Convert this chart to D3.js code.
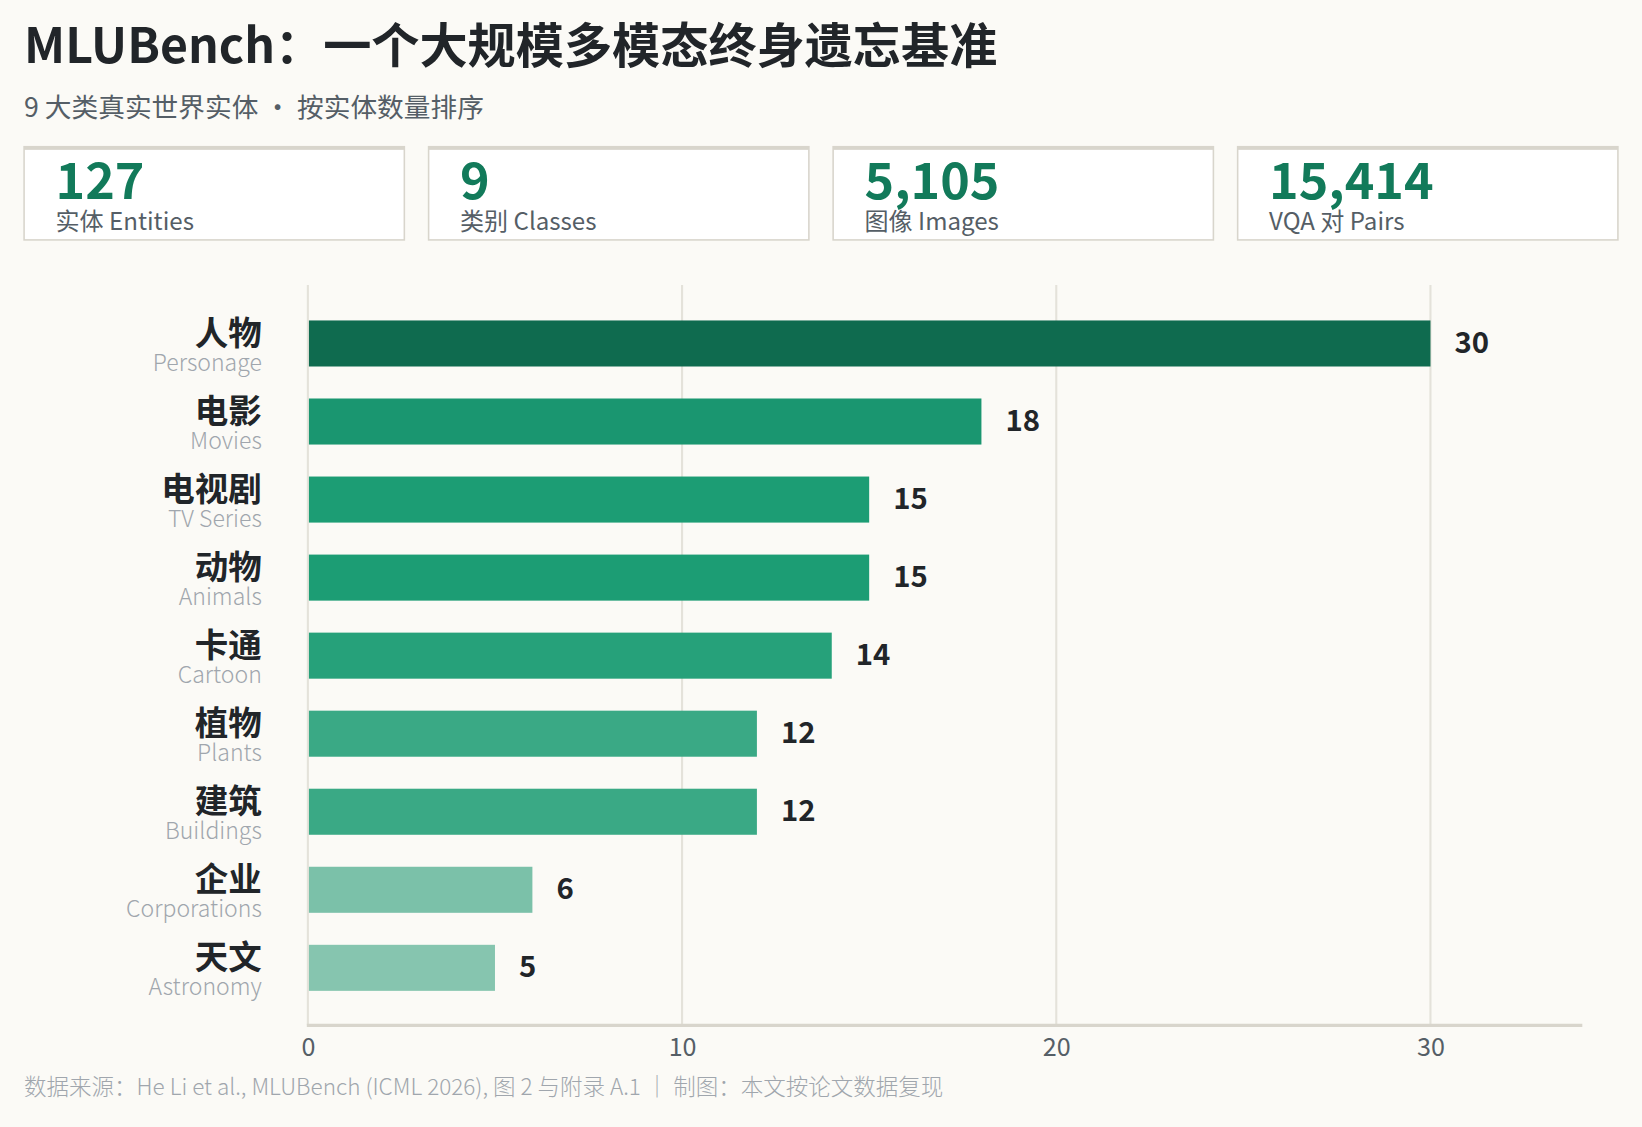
<!DOCTYPE html>
<html><head><meta charset="utf-8">
<script src="https://cdn.jsdelivr.net/npm/d3@7/dist/d3.min.js"></script>
<style>body{margin:0;background:#fbfaf6;}text{font-family:"Noto Sans CJK SC","Noto Sans",sans-serif;}</style>
</head><body><svg id="c"></svg>
<script>
const categoriesZh = ["人物","电影","电视剧","动物","卡通","植物","建筑","企业","天文"];
const categoriesEn = ["Personage","Movies","TV Series","Animals","Cartoon","Plants","Buildings","Corporations","Astronomy"];
const counts = [30,18,15,15,14,12,12,6,5];
const statValues = ["127","9","5,105","15,414"];
const statLabels = ["实体 Entities","类别 Classes","图像 Images","VQA 对 Pairs"];
const tickValues = [0,10,20,30];

const svg = d3.select("#c").attr("width",1642).attr("height",1127).attr("viewBox","0 0 1568 1076");
svg.append("rect").attr("width",1568).attr("height",1076).attr("fill","#fbfaf6");
svg.append("text").attr("x",23).attr("y",60).attr("font-size",46).attr("font-weight",700).attr("fill","#212529").text("MLUBench：一个大规模多模态终身遗忘基准");
svg.append("text").attr("x",23).attr("y",112).attr("font-size",25.5).attr("fill","#555e66").text("9 大类真实世界实体 · 按实体数量排序");

const cardX = d3.scaleBand().domain(d3.range(4)).range([23,1545]).paddingInner(0.06);
const cards = svg.selectAll("g.card").data(statValues).join("g").attr("transform",(d,i)=>`translate(${cardX(i)},140)`);
cards.append("rect").attr("width",cardX.bandwidth()).attr("height",89).attr("fill","#fff").attr("stroke","#d8d5cc").attr("stroke-width",1.5);
cards.append("rect").attr("width",cardX.bandwidth()).attr("height",3).attr("fill","#d8d5cc");
cards.append("text").attr("x",30).attr("y",50).attr("font-size",48).attr("font-weight",700).attr("fill","#127a5a").text(d=>d);
cards.append("text").attr("x",30).attr("y",80).attr("font-size",23).attr("fill","#555e66").text((d,i)=>statLabels[i]);

const x = d3.scaleLinear().domain([0,30]).range([294,1366]);
const y = d3.scaleBand().domain(d3.range(counts.length)).range([291,961]).paddingInner(0.41).paddingOuter(0.2);
const color = d3.scaleLinear().domain([5,12,15,18,30]).range(["#86c5af","#3aa985","#1c9d74","#1a9670","#0f6b4f"]);

svg.append("g").selectAll("line").data(tickValues).join("line")
  .attr("x1",d=>x(d)).attr("x2",d=>x(d)).attr("y1",272).attr("y2",979)
  .attr("stroke","#e4e2da").attr("stroke-width",2);
svg.append("line").attr("x1",293).attr("x2",1511).attr("y1",979).attr("y2",979).attr("stroke","#d8d5cc").attr("stroke-width",3);

const ax = svg.append("g").attr("transform","translate(0,979)").call(d3.axisBottom(x).tickValues(tickValues).tickSize(0).tickPadding(12));
ax.select(".domain").remove();
ax.selectAll("text").attr("font-size",24).attr("fill","#555e66").attr("font-family",'"Noto Sans CJK SC",sans-serif');

svg.append("g").selectAll("rect").data(counts).join("rect")
  .attr("x",x(0)+1).attr("y",(d,i)=>y(i)).attr("width",d=>x(d)-x(0)-1).attr("height",y.bandwidth()).attr("fill",d=>color(d));
svg.append("g").selectAll("text").data(counts).join("text")
  .attr("x",d=>x(d)+23).attr("y",(d,i)=>y(i)+y.bandwidth()/2+9).attr("font-size",28).attr("font-weight",700).attr("fill","#212529").text(d=>d);
svg.append("g").selectAll("text").data(categoriesZh).join("text")
  .attr("x",250).attr("y",(d,i)=>y(i)+y.bandwidth()/2+1).attr("text-anchor","end").attr("font-size",32).attr("font-weight",700).attr("fill","#212529").text(d=>d);
svg.append("g").selectAll("text").data(categoriesEn).join("text")
  .attr("x",250).attr("y",(d,i)=>y(i)+y.bandwidth()/2+26).attr("text-anchor","end").attr("font-size",22).attr("font-weight",300).attr("fill","#a0a6ad").text(d=>d);

svg.append("text").attr("x",23).attr("y",1046).attr("font-size",21.5).attr("font-weight",300).attr("fill","#a0a6ad")
  .text("数据来源：He Li et al., MLUBench (ICML 2026), 图 2 与附录 A.1 ｜ 制图：本文按论文数据复现");
</script></body></html>
